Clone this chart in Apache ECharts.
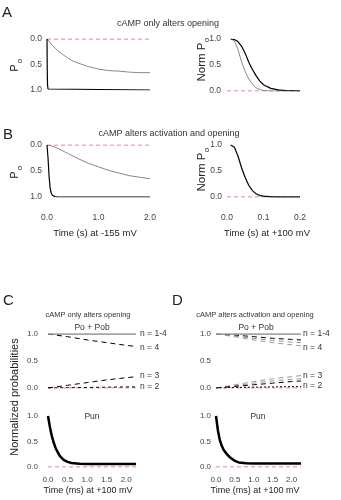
<!DOCTYPE html>
<html><head><meta charset="utf-8">
<script src="https://cdn.jsdelivr.net/npm/echarts@6/dist/echarts.min.js"></script>
<style>html,body{margin:0;padding:0;background:#fff}#c{width:341px;height:500px}</style>
</head><body><div id="c"></div>
<script>
// ---------- Panel A / B (left): Po vs time (s) at -155 mV ----------
const tSlow = [0, 0.1, 0.2, 0.3, 0.4, 0.5, 0.6, 0.8, 1.0, 1.2, 1.4, 1.6, 1.8, 2.0];
const aLeftGray = [0, 0.12, 0.22, 0.30, 0.37, 0.43, 0.47, 0.54, 0.59, 0.62, 0.63, 0.65, 0.66, 0.66];
const aLeftBlackT = [0, 0.005, 0.01, 0.02, 0.04, 2.0];
const aLeftBlack = [0, 0.6, 0.9, 0.98, 1.0, 1.0];
const bLeftGray = [0, 0.02, 0.06, 0.11, 0.16, 0.21, 0.26, 0.35, 0.42, 0.49, 0.54, 0.59, 0.62, 0.65];
const bLeftBlackT = [0, 0.02, 0.04, 0.06, 0.08, 0.10, 0.12, 0.15, 0.2, 2.0];
const bLeftBlack = [0, 0.25, 0.6, 0.82, 0.92, 0.96, 0.98, 0.99, 1.0, 1.0];

// ---------- Panel A / B (right): Norm Po vs time (s) at +100 mV ----------
const tFast = [0.01, 0.02, 0.03, 0.04, 0.05, 0.06, 0.07, 0.08, 0.09, 0.10, 0.12, 0.14, 0.16, 0.18, 0.20];
const aRightBlack = [1.0, 0.99, 0.95, 0.86, 0.72, 0.55, 0.41, 0.29, 0.19, 0.12, 0.05, 0.02, 0.01, 0.005, 0.0];
const aRightGray = [1.0, 0.97, 0.80, 0.56, 0.37, 0.23, 0.13, 0.06, 0.03, 0.01, 0.0, 0.0, 0.0, 0.0, 0.0];
const bRightGray = [1.0, 0.96, 0.79, 0.56, 0.37, 0.22, 0.12, 0.06, 0.03, 0.015, 0.005, 0.0, 0.0, 0.0, 0.0];
const bRightBlack = [1.0, 0.96, 0.79, 0.56, 0.37, 0.22, 0.12, 0.06, 0.03, 0.015, 0.005, 0.0, 0.0, 0.0, 0.0];

// ---------- Panels C / D: normalized probabilities vs time (ms) at +100 mV ----------
const tTop = [0, 0.5, 1.0, 1.5, 2.0, 2.25];
const cPoPob = [1, 1, 1, 1, 1, 1];
const cN4 = [1.0, 0.95, 0.89, 0.84, 0.79, 0.77];
const cN3 = [0, 0.05, 0.10, 0.15, 0.19, 0.21];
const cN2 = [0, 0.005, 0.01, 0.015, 0.02, 0.02];
const dPoPob = [1, 1, 1, 1, 1, 1];
const dN4a = [1.0, 0.98, 0.95, 0.92, 0.90, 0.89];
const dN4b = [1.0, 0.96, 0.92, 0.88, 0.85, 0.84];
const dN4c = [1.0, 0.95, 0.89, 0.84, 0.80, 0.78];
const dN3a = [0, 0.06, 0.12, 0.17, 0.21, 0.23];
const dN3b = [0, 0.04, 0.09, 0.13, 0.16, 0.17];
const dN3c = [0, 0.03, 0.06, 0.09, 0.12, 0.13];
const dN2 = [0, 0.01, 0.015, 0.02, 0.025, 0.025];

const tPun = [0, 0.05, 0.1, 0.15, 0.2, 0.3, 0.4, 0.5, 0.6, 0.8, 1.0, 1.5, 2.0, 2.25];
const cPun = [1.0, 0.78, 0.6, 0.47, 0.36, 0.22, 0.14, 0.10, 0.08, 0.065, 0.06, 0.06, 0.06, 0.06];
const dPun = [1.0, 0.72, 0.53, 0.42, 0.34, 0.24, 0.17, 0.12, 0.09, 0.075, 0.07, 0.07, 0.07, 0.07];

const abTicks = [0, 1.0, 2.0];
const abRTicks = [0, 0.1, 0.2];
const cdTicks = [0, 0.5, 1.0, 1.5, 2.0];
const yTicks = [0, 0.5, 1.0];

const zeroLineT = { ab: [0, 2.0], abR: [0, 0.2], cd: [0, 2.25] };
const zeroLineV = [0, 0];

// ---------- helpers ----------
const FF = '"Liberation Sans", Arial, Helvetica, sans-serif';
const pair = (ts, vs) => ts.map((t, i) => [t, vs[i]]);
const RED = '#e06060';
const TICKC = '#444';

function grid(left, top, width, height) { return { left, top, width, height, containLabel: false }; }

function xAx(gi, min, max, interval, show, size, margin, ticks) {
  return {
    type: 'value', gridIndex: gi, min, max, interval,
    axisLine: { show: false }, axisTick: { show: false }, splitLine: { show: false },
    axisLabel: {
      show, fontSize: size, fontFamily: FF, color: TICKC, margin,
      formatter: v => ticks.some(t => Math.abs(t - v) < 1e-9) ? v.toFixed(1) : ''
    }
  };
}
function yAx(gi, inverse, size, margin) {
  return {
    type: 'value', gridIndex: gi, min: 0, max: 1, interval: 0.5, inverse,
    axisLine: { show: false }, axisTick: { show: false }, splitLine: { show: false },
    axisLabel: { fontSize: size, fontFamily: FF, color: TICKC, margin,
      formatter: v => yTicks.some(t => Math.abs(t - v) < 1e-9) ? v.toFixed(1) : '' }
  };
}
function line(gi, data, color, width, type, z) {
  return {
    type: 'line', xAxisIndex: gi, yAxisIndex: gi, data, showSymbol: false, symbol: 'none',
    smooth: false, animation: false, silent: true, z: z || 2,
    lineStyle: { color, width, type: type || 'solid' }
  };
}
function txt(x, y, text, size, o) {
  o = o || {};
  return {
    type: 'text', x, y, rotation: o.rot || 0, silent: true,
    style: {
      text, font: size + 'px ' + FF, fill: o.color || '#222',
      textAlign: o.align || 'center', textVerticalAlign: o.valign || 'middle',
      align: o.align || 'center', verticalAlign: o.valign || 'middle'
    }
  };
}

const grids = [
  grid(47, 39, 103, 51),   // 0 A left
  grid(227, 39, 73, 52),   // 1 A right
  grid(47, 145, 103, 52),  // 2 B left
  grid(227, 145, 73, 52),  // 3 B right
  grid(48, 334, 88, 54),   // 4 C top
  grid(48, 416, 88, 51),   // 5 C bottom
  grid(216, 334, 85, 54),  // 6 D top
  grid(216, 416, 85, 51)   // 7 D bottom
];

const xAxes = [
  xAx(0, 0, 2, 1, false, 8.5, 16, abTicks),
  xAx(1, 0, 0.2, 0.1, false, 8.5, 16, abRTicks),
  xAx(2, 0, 2, 1, true, 8.5, 16, abTicks),
  xAx(3, 0, 0.2, 0.1, true, 8.5, 16, abRTicks),
  xAx(4, 0, 2.25, 0.5, false, 8, 9, cdTicks),
  xAx(5, 0, 2.25, 0.5, true, 8, 9, cdTicks),
  xAx(6, 0, 2.25, 0.5, false, 8, 9, cdTicks),
  xAx(7, 0, 2.25, 0.5, true, 8, 9, cdTicks)
];
const yAxes = [
  yAx(0, true, 8.5, 5),
  yAx(1, false, 8.5, 6),
  yAx(2, true, 8.5, 5),
  yAx(3, false, 8.5, 5),
  yAx(4, false, 8, 10),
  yAx(5, false, 8, 10),
  yAx(6, false, 8, 5),
  yAx(7, false, 8, 5)
];

const dash = [5, 4];
const series = [
  // A left
  line(0, pair(zeroLineT.ab, zeroLineV), RED, 1, [4, 3], 1),
  line(0, pair(tSlow, aLeftGray), '#888', 1),
  line(0, pair(aLeftBlackT, aLeftBlack), '#000', 1.2, 'solid', 3),
  // A right
  line(1, pair(zeroLineT.abR, zeroLineV), RED, 1, [4, 3], 1),
  line(1, pair(tFast, aRightGray), '#888', 1),
  line(1, pair(tFast, aRightBlack), '#000', 1.2, 'solid', 3),
  // B left
  line(2, pair(zeroLineT.ab, zeroLineV), RED, 1, [4, 3], 1),
  line(2, pair(tSlow, bLeftGray), '#888', 1),
  line(2, pair(bLeftBlackT, bLeftBlack), '#000', 1.2, 'solid', 3),
  // B right
  line(3, pair(zeroLineT.abR, zeroLineV), RED, 1, [4, 3], 1),
  line(3, pair(tFast, bRightGray), '#888', 1.5),
  line(3, pair(tFast, bRightBlack), '#000', 1, 'solid', 3),
  // C top
  line(4, pair(zeroLineT.cd, zeroLineV), RED, 1, [4, 3], 1),
  line(4, pair(tTop, cN2), '#000', 1, [3, 3]),
  line(4, pair(tTop, cN3), '#000', 1, dash),
  line(4, pair(tTop, cN4), '#000', 1, dash),
  line(4, pair(tTop, cPoPob), '#888', 1.6, 'solid', 3),
  // C bottom
  line(5, pair(zeroLineT.cd, zeroLineV), RED, 1, [4, 3], 1),
  line(5, pair(tPun, cPun), '#000', 2.5),
  // D top
  line(6, pair(zeroLineT.cd, zeroLineV), RED, 1, [4, 3], 1),
  line(6, pair(tTop, dN2), '#000', 1, [2, 2]),
  line(6, pair(tTop, dN3a), '#999', 1, dash),
  line(6, pair(tTop, dN3b), '#999', 1, dash),
  line(6, pair(tTop, dN3c), '#000', 1, dash),
  line(6, pair(tTop, dN4a), '#000', 1, dash),
  line(6, pair(tTop, dN4b), '#999', 1, dash),
  line(6, pair(tTop, dN4c), '#999', 1, dash),
  line(6, pair(tTop, dPoPob), '#888', 1.6, 'solid', 3),
  // D bottom
  line(7, pair(zeroLineT.cd, zeroLineV), RED, 1, [4, 3], 1),
  line(7, pair(tPun, dPun), '#000', 2.5)
];

const graphics = [
  // panel letters
  txt(2, 5, 'A', 15, { align: 'left', valign: 'top' }),
  txt(3, 127, 'B', 15, { align: 'left', valign: 'top' }),
  txt(3, 293, 'C', 15, { align: 'left', valign: 'top' }),
  txt(172, 293, 'D', 15, { align: 'left', valign: 'top' }),
  // titles
  txt(168, 24, 'cAMP only alters opening', 9, { color: '#333' }),
  txt(169, 134, 'cAMP alters activation and opening', 9, { color: '#333' }),
  txt(88, 315, 'cAMP only alters opening', 7.5, { color: '#333' }),
  txt(255, 315, 'cAMP alters activation and opening', 7.5, { color: '#333' }),
  // y labels A/B left
  txt(15, 68, 'P', 11, { rot: Math.PI / 2 }),
  txt(20, 61, 'o', 8, { rot: Math.PI / 2 }),
  txt(15, 175, 'P', 11, { rot: Math.PI / 2 }),
  txt(20, 168, 'o', 8, { rot: Math.PI / 2 }),
  // y labels A/B right
  txt(202, 62, 'Norm P', 11.5, { rot: Math.PI / 2 }),
  txt(207, 40, 'o', 8, { rot: Math.PI / 2 }),
  txt(202, 172, 'Norm P', 11.5, { rot: Math.PI / 2 }),
  txt(207, 150, 'o', 8, { rot: Math.PI / 2 }),
  // x labels
  txt(95, 233, 'Time (s) at -155 mV', 9.5),
  txt(267, 233, 'Time (s) at +100 mV', 9.5),
  txt(88, 491, 'Time (ms) at +100 mV', 9),
  txt(255, 491, 'Time (ms) at +100 mV', 9),
  // C y label
  txt(15, 397, 'Normalized probabilities', 11, { rot: Math.PI / 2 }),
  // annotations C
  txt(92, 328, 'Po + Pob', 8.5, { color: '#333' }),
  txt(140, 334, 'n = 1-4', 8.5, { align: 'left', color: '#333' }),
  txt(140, 348, 'n = 4', 8.5, { align: 'left', color: '#333' }),
  txt(140, 376, 'n = 3', 8.5, { align: 'left', color: '#333' }),
  txt(140, 387, 'n = 2', 8.5, { align: 'left', color: '#333' }),
  txt(92, 417, 'Pun', 8.5, { color: '#333' }),
  // annotations D
  txt(256, 328, 'Po + Pob', 8.5, { color: '#333' }),
  txt(303, 334, 'n = 1-4', 8.5, { align: 'left', color: '#333' }),
  txt(303, 348, 'n = 4', 8.5, { align: 'left', color: '#333' }),
  txt(303, 376, 'n = 3', 8.5, { align: 'left', color: '#333' }),
  txt(303, 386, 'n = 2', 8.5, { align: 'left', color: '#333' }),
  txt(258, 417, 'Pun', 8.5, { color: '#333' })
];

const chart = echarts.init(document.getElementById('c'), null, { renderer: 'canvas' });
chart.setOption({
  backgroundColor: '#fff',
  animation: false,
  grid: grids,
  xAxis: xAxes,
  yAxis: yAxes,
  series,
  graphic: { elements: graphics }
});
</script>
</body></html>
